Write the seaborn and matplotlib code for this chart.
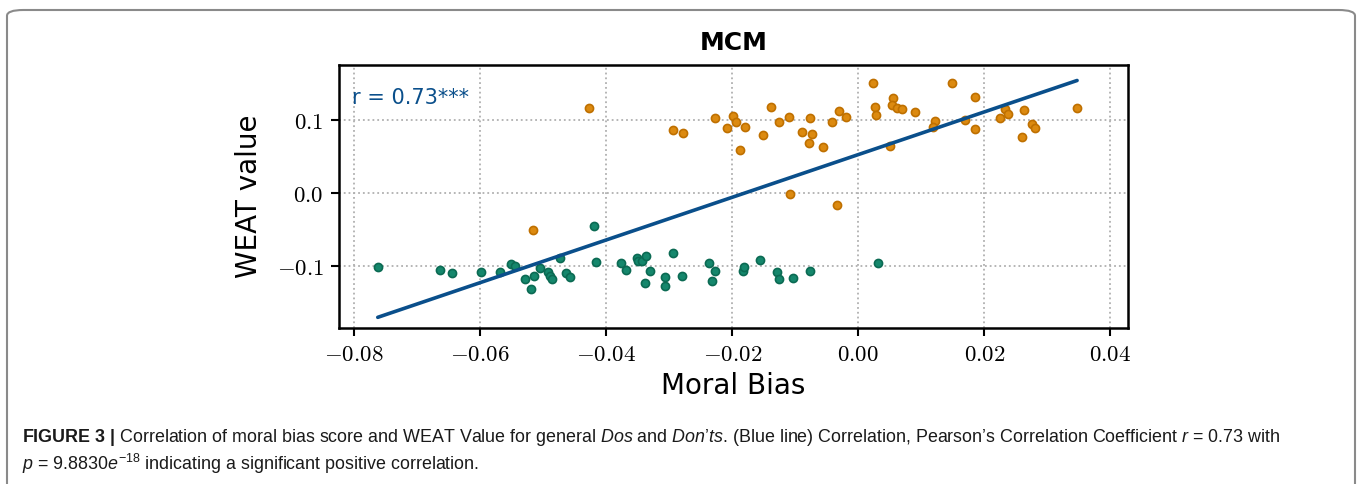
import numpy as np
import pandas as pd
import matplotlib
matplotlib.use("Agg")
import matplotlib.pyplot as plt
import seaborn as sns
from matplotlib.patches import FancyBboxPatch
from matplotlib.ticker import FuncFormatter, FixedLocator

# ---- data ----
dont_bias = [-0.07625, -0.06643, -0.06444, -0.05994, -0.05689, -0.05515, -0.05447, -0.05288,
             -0.05150, -0.05198, -0.05051, -0.04918, -0.04892, -0.04861, -0.04734, -0.04639,
             -0.04570, -0.04196, -0.04158, -0.03769, -0.03683, -0.03515, -0.03488, -0.03425,
             -0.03362, -0.03298, -0.03389, -0.03072, -0.03066, -0.02934, -0.02803, -0.02364,
             -0.02280, -0.02328, -0.01837, -0.01806, -0.01552, -0.01283, -0.01261, -0.01030,
             -0.00766, 0.00316]
dont_weat = [-0.1021, -0.1058, -0.1103, -0.1086, -0.1095, -0.0985, -0.1012, -0.1182,
             -0.1150, -0.1316, -0.1040, -0.1086, -0.1150, -0.1182, -0.0897, -0.1103,
             -0.1164, -0.0461, -0.0957, -0.0966, -0.1058, -0.0902, -0.0934, -0.0938,
             -0.0865, -0.1076, -0.1241, -0.1164, -0.1274, -0.0828, -0.1141, -0.0966,
             -0.1072, -0.1219, -0.1068, -0.1021, -0.0924, -0.1095, -0.1178, -0.1168,
             -0.1072, -0.0971]
do_bias = [-0.05155, -0.04269, -0.02945, -0.02776, -0.02280, -0.02084, -0.01984, -0.01937,
           -0.01882, -0.01795, -0.01514, -0.01383, -0.01261, -0.01103, -0.01087, -0.00892,
           -0.00786, -0.00762, -0.00729, -0.00560, -0.00422, -0.00306, -0.00193, -0.00343,
           0.00237, 0.00259, 0.00287, 0.00553, 0.00533, 0.00612, 0.00696, 0.00506,
           0.00908, 0.01218, 0.01185, 0.01494, 0.01696, 0.01855, 0.01855, 0.02246,
           0.02321, 0.02374, 0.02594, 0.02630, 0.02762, 0.02801, 0.03472]
do_weat = [-0.0510, 0.1167, 0.0863, 0.0828, 0.1032, 0.0890, 0.1062, 0.0979,
           0.0583, 0.0910, 0.0800, 0.1177, 0.0979, 0.1048, -0.0019, 0.0832,
           0.0690, 0.1029, 0.0808, 0.0628, 0.0979, 0.1126, 0.1043, -0.0161,
           0.1503, 0.1172, 0.1066, 0.1305, 0.1208, 0.1170, 0.1152, 0.0643,
           0.1108, 0.0993, 0.0901, 0.1512, 0.1004, 0.1310, 0.0883, 0.1029,
           0.1149, 0.1083, 0.0763, 0.1139, 0.0952, 0.0897, 0.1166]
x_ticks = [-0.08, -0.06, -0.04, -0.02, 0.00, 0.02, 0.04]
y_ticks = [-0.1, 0.0, 0.1]
title = "MCM"
x_label = "Moral Bias"
y_label = "WEAT value"
r_label = "r = 0.73***"

df = pd.DataFrame({
    "bias": dont_bias + do_bias,
    "weat": dont_weat + do_weat,
    "kind": ["dont"] * len(dont_bias) + ["do"] * len(do_bias),
})

sns.set_style("white")
plt.rcParams["font.family"] = ["DejaVu Sans"]
plt.rcParams["text.color"] = "black"
plt.rcParams["axes.labelcolor"] = "black"
plt.rcParams["mathtext.fontset"] = "cm"
plt.rcParams["mathtext.rm"] = "Liberation Sans"
plt.rcParams["mathtext.it"] = "Liberation Sans:italic"
plt.rcParams["mathtext.bf"] = "Liberation Sans:bold"

fig = plt.figure(figsize=(13.6, 4.84), dpi=100)
ax = fig.add_axes([339 / 1360, 1 - 328 / 484, (1128 - 339) / 1360, (328 - 65) / 484])

palette = {"dont": "#15876c", "do": "#dc8a10"}
edges = {"dont": "#0b6a53", "do": "#bf7000"}
for k in ["dont", "do"]:
    sub = df[df["kind"] == k]
    sns.scatterplot(data=sub, x="bias", y="weat", color=palette[k], edgecolor=edges[k],
                    linewidth=1.2, s=34, ax=ax, legend=False, zorder=3)
sns.regplot(data=df, x="bias", y="weat", scatter=False, ci=None, ax=ax,
            line_kws={"color": "#0a4f8b", "linewidth": 2.6, "zorder": 4})

ax.set_xlim(-0.0824, 0.0428)
ax.set_ylim(-0.1858, 0.1756)
ax.xaxis.set_major_locator(FixedLocator(x_ticks))
ax.yaxis.set_major_locator(FixedLocator(y_ticks))
ax.xaxis.set_major_formatter(FuncFormatter(lambda v, p: "$%.2f$" % v))
ax.yaxis.set_major_formatter(FuncFormatter(lambda v, p: "$%.1f$" % v))
ax.tick_params(axis="both", direction="out", length=6, width=1.5, labelsize=16.5,
               bottom=True, left=True, colors="black", pad=5)
ax.grid(True, linestyle=":", color="#b0b0b0", linewidth=1.3)
for sp in ax.spines.values():
    sp.set_visible(True)
    sp.set_color("black")
    sp.set_linewidth(1.8)

ax.set_xlabel(x_label, fontsize=20, labelpad=4, color="black")
ax.set_ylabel(y_label, fontsize=20, labelpad=10, color="black")
ax.set_title(title, fontsize=18, fontweight="bold", pad=11, color="black")
ax.text(0.016, 0.875, r_label, transform=ax.transAxes, color="#0a4f8b",
        fontsize=15, ha="left", va="center")

# caption
cap1 = (r"$\mathbf{FIGURE\ 3\ |}$ Correlation of moral bias score and WEAT Value for general "
        r"$\mathit{Dos}$ and $\mathit{Don’ts}$. (Blue line) Correlation, Pearson’s Correlation "
        r"Coefficient $r$ = 0.73 with")
cap2 = r"$p$ = 9.8830$e^{-18}$ indicating a significant positive correlation."
fig.text(22 / 1360, 1 - 437 / 484, cap1, fontsize=12.9, family="Liberation Sans",
         math_fontfamily="custom", ha="left", va="center", color="#1a1a1a")
fig.text(22 / 1360, 1 - 464 / 484, cap2, fontsize=12.9, family="Liberation Sans",
         math_fontfamily="custom", ha="left", va="center", color="#1a1a1a")

# rounded frame
frame = FancyBboxPatch((7 / 1360, -0.05), (1355 - 7) / 1360, (1 - 10 / 484) + 0.05,
                       boxstyle="round,pad=0,rounding_size=0.012", transform=fig.transFigure,
                       fill=False, edgecolor="#8a8a8a", linewidth=1.5, clip_on=False)
fig.patches.append(frame)

fig.savefig("out.png", dpi=100)
